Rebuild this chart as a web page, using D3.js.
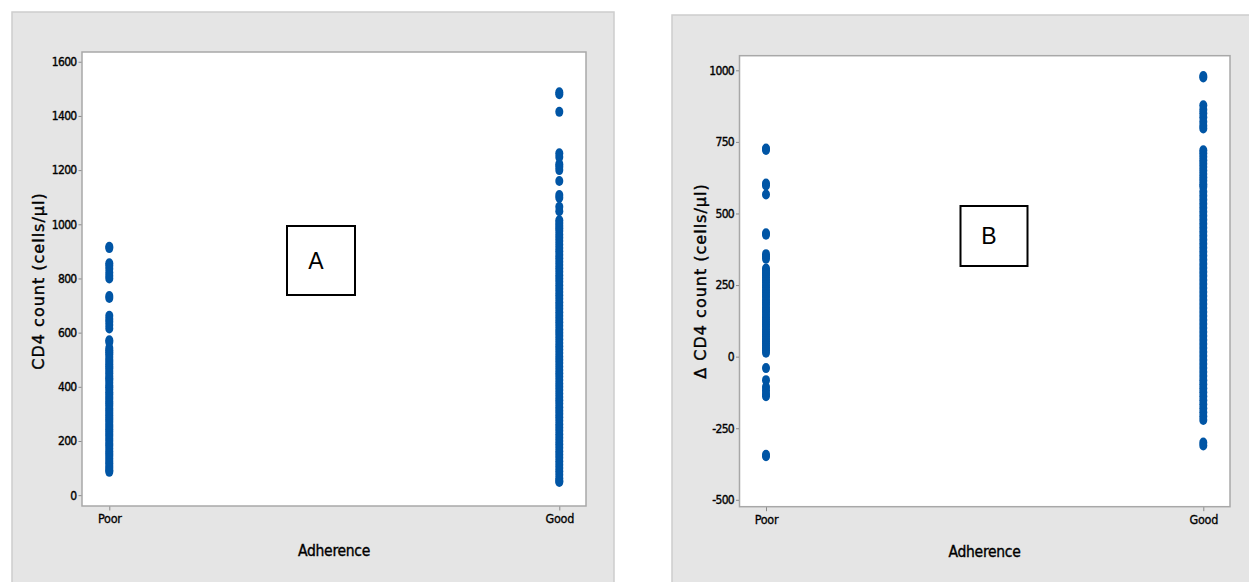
<!DOCTYPE html>
<html>
<head>
<meta charset="utf-8">
<script src="https://cdn.jsdelivr.net/npm/d3@7"></script>
<style>
  html, body { margin: 0; padding: 0; background: #ffffff; }
  svg { display: block; }
</style>
</head>
<body>
<svg id="chart" width="1249" height="582"></svg>
<script>
// ---------- DATA ----------
const categories = ["Poor", "Good"];

// Panel A: CD4 count (cells/µl)
const cd4Poor = [917, 912, 856, 848, 836, 822, 810, 800, 735, 728, 662, 650, 640, 628, 615,
  572, 565, 543, 535, 528, 520, 510, 500, 492, 483, 475, 468, 458, 450, 440, 432, 425, 415,
  405, 398, 390, 380, 372, 362, 355, 346, 338, 330, 320, 312, 303, 295, 286, 278, 270, 260,
  252, 243, 235, 226, 218, 208, 200, 190, 182, 172, 162, 153, 145, 135, 126, 118, 108, 100, 92, 86];
const cd4Good = [1487, 1480, 1415, 1262, 1248, 1222, 1212, 1200, 1160, 1108, 1098, 1065, 1048,
  1015, 1005, 995, 985, 975, 962, 950, 938, 925, 912, 900, 887, 875, 862, 850, 838, 825, 812,
  800, 788, 775, 762, 750, 738, 725, 712, 700, 688, 675, 662, 650, 638, 625, 612, 600, 588,
  575, 562, 550, 538, 525, 512, 500, 488, 475, 462, 450, 438, 425, 412, 400, 388, 375, 362,
  350, 338, 325, 312, 300, 288, 275, 262, 250, 238, 225, 212, 200, 188, 175, 162, 150, 138,
  125, 112, 100, 88, 75, 62, 52, 49];

// Panel B: change in CD4 count (cells/µl)
const dcd4Poor = [727, 722, 605, 598, 566, 431, 426, 358, 350, 342, 308, 300, 292, 285, 276,
  268, 260, 250, 242, 233, 225, 216, 208, 198, 190, 182, 172, 164, 156, 146, 138, 130, 121,
  112, 104, 95, 86, 78, 70, 62, 54, 46, 38, 30, 22, 14, -40, -82, -106, -118, -130, -138,
  -343, -348];
const dcd4Good = [980, 975, 878, 862, 850, 836, 820, 806, 797, 721, 710, 698, 686, 674, 662,
  650, 638, 626, 614, 602, 593, 576, 562, 548, 534, 520, 506, 492, 478, 464, 450, 436, 422,
  408, 394, 380, 366, 352, 338, 324, 310, 296, 282, 268, 254, 240, 226, 212, 198, 184, 170,
  156, 142, 128, 114, 100, 86, 72, 58, 44, 30, 16, 2, -12, -26, -40, -54, -68, -82, -96,
  -110, -124, -138, -152, -166, -180, -194, -208, -221, -300, -310];

const ticksA = [0, 200, 400, 600, 800, 1000, 1200, 1400, 1600];
const ticksB = [-500, -250, 0, 250, 500, 750, 1000];

const xTitle = "Adherence";
const yTitleA = "CD4 count (cells/µl)";
const yTitleB = "Δ CD4 count (cells/µl)";
const panelLabels = ["A", "B"];

// ---------- DRAW ----------
const svg = d3.select("#chart");
const dotColor = "#0055a5";

const panels = [
  {
    outer: {x: 12, y: 12, w: 602, h: 575},
    plot: {x0: 82, x1: 586, y0: 52, y1: 506},
    domain: [-40, 1636], ticks: ticksA,
    xPos: [109.3, 559.3],
    series: [cd4Poor, cd4Good],
    yTitle: yTitleA, yTitleX: 38, yTitleY: 281,
    xTitleX: 334, xTitleY: 556,
    box: {x: 287, y: 226, w: 68, h: 69}, label: panelLabels[0]
  },
  {
    outer: {x: 672, y: 15, w: 582, h: 572},
    plot: {x0: 739.5, x1: 1230, y0: 55.7, y1: 506.7},
    domain: [-524, 1051], ticks: ticksB,
    xPos: [766, 1203.3],
    series: [dcd4Poor, dcd4Good],
    yTitle: yTitleB, yTitleX: 700, yTitleY: 281,
    xTitleX: 984.5, xTitleY: 557,
    box: {x: 960.5, y: 206, w: 67, h: 60}, label: panelLabels[1]
  }
];

const condensed = "'DejaVu Sans Condensed', 'DejaVu Sans', sans-serif";

panels.forEach(p => {
  const g = svg.append("g");
  // outer grey panel
  g.append("rect")
    .attr("x", p.outer.x).attr("y", p.outer.y)
    .attr("width", p.outer.w).attr("height", p.outer.h)
    .attr("fill", "#e5e5e5").attr("stroke", "#cdcdcd").attr("stroke-width", 1.5);

  // plot area
  g.append("rect")
    .attr("x", p.plot.x0).attr("y", p.plot.y0)
    .attr("width", p.plot.x1 - p.plot.x0).attr("height", p.plot.y1 - p.plot.y0)
    .attr("fill", "#ffffff").attr("stroke", "#a8a8a8").attr("stroke-width", 1.5);

  const y = d3.scaleLinear().domain(p.domain).range([p.plot.y1, p.plot.y0]);
  const x = d3.scalePoint().domain(categories).range(p.xPos).padding(0);

  // y axis
  const yAxis = g.append("g")
    .attr("transform", `translate(${p.plot.x0 - 0.5},0)`)
    .call(d3.axisLeft(y).tickValues(p.ticks).tickSize(3).tickPadding(2).tickFormat(d => String(d)));
  yAxis.select(".domain").remove();
  yAxis.selectAll(".tick line").attr("stroke", "#8a8a8a");
  yAxis.selectAll(".tick text")
    .attr("fill", "#000")
    .attr("stroke", "#000").attr("stroke-width", 0.35)
    .style("font-family", condensed)
    .style("font-size", "12px")
    .style("letter-spacing", "-0.7px");

  // x axis
  const xAxis = g.append("g")
    .attr("transform", `translate(0,${p.plot.y1 + 0.5})`)
    .call(d3.axisBottom(x).tickSize(4).tickPadding(4));
  xAxis.select(".domain").remove();
  xAxis.selectAll(".tick line").attr("stroke", "#8a8a8a");
  xAxis.selectAll(".tick text")
    .attr("fill", "#000")
    .attr("stroke", "#000").attr("stroke-width", 0.3)
    .style("font-family", condensed)
    .style("font-size", "12.5px")
    .style("letter-spacing", "-0.3px");

  // dots
  p.series.forEach((vals, i) => {
    g.append("g").selectAll("ellipse")
      .data(vals)
      .join("ellipse")
      .attr("cx", x(categories[i]))
      .attr("cy", d => y(d))
      .attr("rx", 4)
      .attr("ry", 5)
      .attr("fill", dotColor);
  });

  // axis titles
  g.append("text")
    .attr("x", p.xTitleX).attr("y", p.xTitleY)
    .attr("text-anchor", "middle")
    .attr("fill", "#000")
    .attr("stroke", "#000").attr("stroke-width", 0.35)
    .style("font-family", condensed)
    .style("font-size", "15.5px")
    .style("letter-spacing", "-0.3px")
    .text(xTitle);

  g.append("text")
    .attr("transform", `translate(${p.yTitleX},${p.yTitleY}) rotate(-90)`)
    .attr("text-anchor", "middle")
    .attr("dominant-baseline", "central")
    .attr("fill", "#000")
    .attr("stroke", "#000").attr("stroke-width", 0.4)
    .style("font-family", "'DejaVu Sans', sans-serif")
    .style("font-size", "16px")
    .style("letter-spacing", "1px")
    .text(p.yTitle);

  // panel label box
  g.append("rect")
    .attr("x", p.box.x).attr("y", p.box.y)
    .attr("width", p.box.w).attr("height", p.box.h)
    .attr("fill", "#ffffff").attr("stroke", "#000000").attr("stroke-width", 2);
  g.append("text")
    .attr("x", p.box.x + p.box.w / 2 - 5).attr("y", p.box.y + p.box.h / 2)
    .attr("text-anchor", "middle")
    .attr("dominant-baseline", "central")
    .attr("fill", "#000000")
    .style("font-family", "'Liberation Sans', Arial, sans-serif")
    .style("font-size", "23px")
    .text(p.label);
});
</script>
</body>
</html>
